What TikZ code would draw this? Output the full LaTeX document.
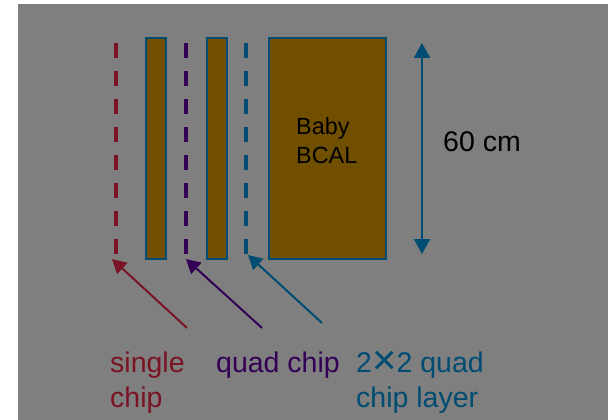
\documentclass[tikz,border=0pt]{standalone}
\usepackage{fontspec}
\setmainfont{Liberation Sans}
\usetikzlibrary{arrows.meta,positioning}
\definecolor{cGray}{HTML}{7F7F7F}
\definecolor{cRed}{HTML}{7A1424}
\definecolor{cPurple}{HTML}{330055}
\definecolor{cBlue}{HTML}{004C72}
\definecolor{cOlive}{HTML}{705000}
\tikzset{
  slab/.style={draw=cBlue, line width=2pt, fill=cOlive, minimum width=20pt, minimum height=221pt, inner sep=0pt},
  chipline/.style={line width=3.5pt, dash pattern=on 15pt off 13pt},
  pointer/.style={-{Triangle[length=14pt,width=15pt]}, line width=2pt},
  lbl/.style={font=\fontsize{28.5}{35}\selectfont, align=left, inner sep=0pt, anchor=base west},
}

\begin{document}
\begin{tikzpicture}[x=1pt, y=-1pt]
    \useasboundingbox (0,0) rectangle (608,420);
    \fill[cGray] (18,4) rectangle (608,420);
    % absorber slabs and the calorimeter
    \node[slab] (slabA) at (155.5,148.5) {};
    \node[slab] (slabB) at (216.5,148.5) {};
    \node[slab, minimum width=117pt] (bcal) at (327,148.5) {};
    \node[lbl, font=\fontsize{23.4}{29}\selectfont] (bcaltext) at (296,163) {Baby\\BCAL};
    % chip layers
    \foreach \x/\c/\n in {116/cRed/single, 186/cPurple/quad, 246/cBlue/array} {
      \coordinate (\n-top) at (\x,43);
      \coordinate (\n-bot) at (\x,254);
      \draw[chipline, \c] (\n-top) -- (\n-bot);
    }
    % height
    \coordinate (htop) at (422,43);
    \coordinate (hbot) at (422,254);
    \draw[{Triangle[length=15pt,width=16pt]}-{Triangle[length=15pt,width=16pt]}, line width=2pt, cBlue] (htop) -- (hbot);
    \node[lbl] (height) at (443,151) {60 cm};
    % labels
    \node[lbl, text=cRed]    (singlelbl) at (110,407) {single\\chip};
    \node[lbl, text=cPurple] (quadlbl)   at (216,372) {quad chip};
    \node[lbl, text=cBlue]   (arraylbl)  at (356,407) {2\raisebox{-2pt}{\fontsize{42}{35}\selectfont ×}2 quad\\chip layer};
    \coordinate (single-tail) at (187,328);
    \coordinate (quad-tail)   at (262,328);
    \coordinate (array-tail)  at (322,323);
    \draw[pointer, cRed]    (single-tail) -- ([shift={(-4,5)}]single-bot);
    \draw[pointer, cPurple] (quad-tail)   -- ([shift={(0,5)}]quad-bot);
    \draw[pointer, cBlue]   (array-tail)  -- ([shift={(2,1)}]array-bot);
\end{tikzpicture}
\end{document}
